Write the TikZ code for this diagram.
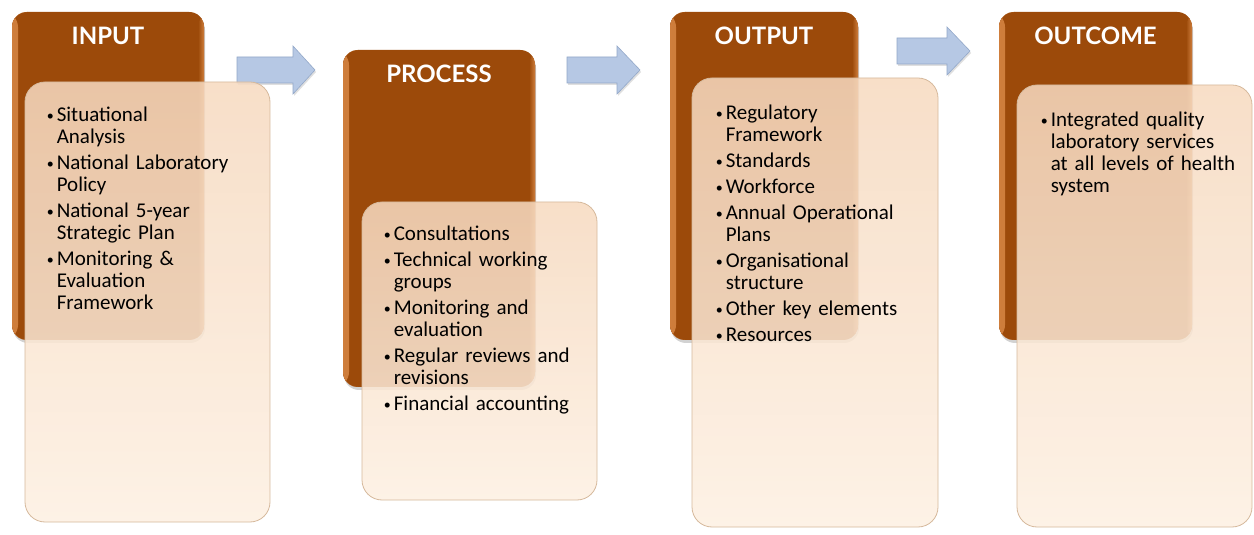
\documentclass[tikz,border=0pt]{standalone}
\usepackage{fontspec}
\setmainfont{Carlito}
\newfontfamily\headfont{Lato}
\usetikzlibrary{positioning,fit,shadows}

\definecolor{rust}{HTML}{9C4A0A}
\definecolor{rustedge}{HTML}{CF7E3C}
\definecolor{peachtop}{HTML}{F7DAC0}
\definecolor{peachbot}{HTML}{FDF0E2}
\definecolor{peachline}{HTML}{D6B99C}
\definecolor{flowblue}{HTML}{B6C8E4}
\definecolor{flowline}{HTML}{93A8C9}

% small bullet, sitting at mid x-height
\newcommand{\dotmark}{\raisebox{1.5bp}{\fontsize{14bp}{14bp}\selectfont\textbullet}}

% bullet list used inside the pale boxes
\newenvironment{boxlist}{\begin{list}{\dotmark}{%
    \setlength\leftmargin{10bp}\setlength\labelwidth{7bp}%
    \setlength\labelsep{3bp}\setlength\itemsep{4bp}%
    \setlength\topsep{0pt}\setlength\partopsep{0pt}%
    \setlength\parsep{0pt}}}{\end{list}}

\tikzset{stagebox/.style={rounded corners=15bp, fill=rust, inner sep=0pt,
    drop shadow={opacity=.35, shadow xshift=1bp, shadow yshift=-3bp},
    path picture={
      \fill[left color=rustedge, right color=rust]
        (path picture bounding box.south west) rectangle
        ([xshift=6bp]path picture bounding box.north west);
      \fill[left color=rust, right color=rustedge]
        ([xshift=-6bp]path picture bounding box.south east) rectangle
        (path picture bounding box.north east);}}}
\tikzset{itembox/.style={rounded corners=20bp, top color=peachtop,
    bottom color=peachbot, draw=peachline, line width=.8bp,
    fill opacity=.86, inner sep=0pt}}
\tikzset{stagename/.style={font=\headfont\bfseries\fontsize{24bp}{24bp}\selectfont,
    text=white, inner sep=0pt}}
\tikzset{itemtext/.style={font=\fontsize{21bp}{22bp}\selectfont,
    text width=240bp, align=left, inner sep=0pt, anchor=north west}}
\tikzset{flowarrow/.style={fill=flowblue, draw=flowline, line width=.6bp,
    drop shadow={opacity=.25, shadow xshift=1bp, shadow yshift=-2bp}}}

\begin{document}
\begin{tikzpicture}[x=1bp, y=-1bp]
    \useasboundingbox[fill=white] (0,0) rectangle (1254,535);

    % arrows between the stages
    \draw[flowarrow] (237,57) -- (293,57) -- (293,46) -- (315,70)
      -- (293,94) -- (293,83) -- (237,83) -- cycle;
    \draw[flowarrow] (567,57) -- (617,57) -- (617,46) -- (640,70)
      -- (617,94) -- (617,83) -- (567,83) -- cycle;
    \draw[flowarrow] (897,38) -- (947,38) -- (947,27) -- (970,51)
      -- (947,75) -- (947,64) -- (897,64) -- cycle;

    % input
    \node[stagebox, fit={(12,12) (204,340)}] (inb) {};
    \node[itembox, fit={(25,82) (270,522)}] (inl) {};
    \node[stagename, below=15bp of inb.north] (inh) {INPUT};
    \node[itemtext, below right=18bp and 22bp of inl.north west] (int) {%
      \begin{boxlist}
      \item Situational\\ Analysis
      \item National Laboratory\\ Policy
      \item National 5-year\\ Strategic Plan
      \item Monitoring \&\\ Evaluation\\ Framework
      \end{boxlist}};

    % process
    \node[stagebox, fit={(343,50) (535,387)}] (prb) {};
    \node[itembox, fit={(362,202) (597,500)}] (prl) {};
    \node[stagename, below=15bp of prb.north] (prh) {PROCESS};
    \node[itemtext, below right=17bp and 22bp of prl.north west] (prt) {%
      \begin{boxlist}
      \item Consultations
      \item Technical working\\ groups
      \item Monitoring and\\ evaluation
      \item Regular reviews and\\ revisions
      \item Financial accounting
      \end{boxlist}};

    % output
    \node[stagebox, fit={(670,12) (858,340)}] (oub) {};
    \node[itembox, fit={(692,78) (938,527)}] (oul) {};
    \node[stagename, below=15bp of oub.north] (ouh) {OUTPUT};
    \node[itemtext, below right=20bp and 24bp of oul.north west] (out) {%
      \begin{boxlist}
      \item Regulatory\\ Framework
      \item Standards
      \item Workforce
      \item Annual Operational\\ Plans
      \item Organisational\\ structure
      \item Other key elements
      \item Resources
      \end{boxlist}};

    % outcome
    \node[stagebox, fit={(999,12) (1192,340)}] (ocb) {};
    \node[itembox, fit={(1017,85) (1252,527)}] (ocl) {};
    \node[stagename, below=15bp of ocb.north] (och) {OUTCOME};
    \node[itemtext, below right=20bp and 24bp of ocl.north west] (oct) {%
      \begin{boxlist}
      \item Integrated quality\\ laboratory services\\ at all levels of health\\ system
      \end{boxlist}};
  \end{tikzpicture}
\end{document}
